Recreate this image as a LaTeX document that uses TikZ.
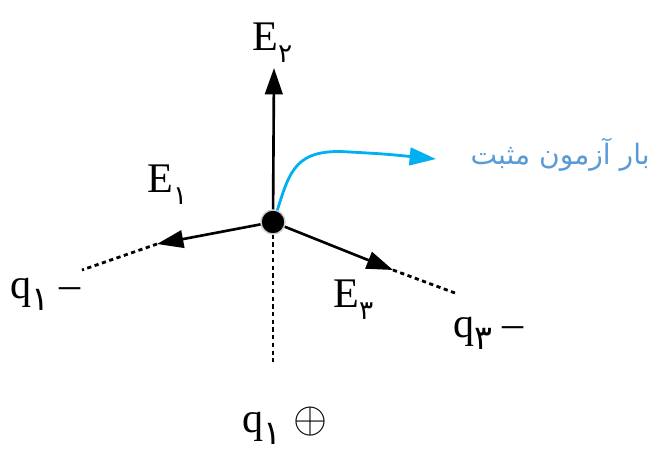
\documentclass[tikz,border=0pt]{standalone}
\usepackage{fontspec}
\usepackage{xcolor}
\usepackage{tikz}
\usetikzlibrary{arrows.meta}
\setmainfont{Liberation Serif}
\newfontfamily\fafont[Script=Arabic]{DejaVu Sans}
\TeXXeTstate=1
\definecolor{probe}{HTML}{00B0F0}
\definecolor{probetext}{HTML}{5B9BD5}
% persian digit as a lowered index
\newcommand{\fdig}[2][15]{\raisebox{-0.3em}{\fafont\fontsize{#1}{#1}\selectfont #2}}

\begin{document}
\begin{tikzpicture}[
    x=0.02cm, y=-0.02cm,
    font=\fontsize{24}{28}\selectfont,
    charge/.style={circle, fill=black, draw=gray!40, line width=0.8pt, minimum size=0.48cm, inner sep=0pt},
    field/.style={-{Triangle[length=15pt,width=10pt]}, line width=1.5pt},
    guide/.style={line width=1.6pt, dash pattern=on 2.4pt off 2pt},
    probearrow/.style={-{Triangle[length=15pt,width=10pt]}, line width=1.6pt, color=probe},
    lbl/.style={anchor=base west, inner sep=0pt}
]
\useasboundingbox (0,0) rectangle (655,451);

\node[charge] (q0) at (273,222) {};

% tips of the field vectors and ends of the guide lines
\coordinate (tipE2) at (274,68);
\coordinate (tipE1) at (157,244);
\coordinate (tipE3) at (393,270);
\coordinate (endE1) at (82,270);
\coordinate (endE3) at (455,293);
\coordinate (endQ) at (273,362);
\coordinate (tipP) at (436,159);

\draw[guide] (q0) -- (endQ);
\draw[guide] (tipE1) -- (endE1);
\draw[guide] (tipE3) -- (endE3);

\draw[field] (q0) -- (tipE2);
\draw[field] (q0) -- (tipE1);
\draw[field] (q0) -- (tipE3);

\draw[probearrow] (q0.70) .. controls (290,170) and (296,148) .. (350,152)
    .. controls (385,154) .. (tipP);

% labels
\node[lbl] (labE2) at (252,50) {E\fdig{۲}};
\node[lbl] (labE1) at (147,192) {E\fdig{۱}};
\node[lbl] (labE3) at (333,307) {E\fdig{۳}};
\node[lbl] (labQ1) at (10,298) {q\fdig[19]{۱} –};
\node[lbl] (labQ3) at (453,337) {q\fdig[19]{۳} –};
\node[lbl] (labQ0) at (242,432) {q\fdig[19]{۱}\hspace{7pt}{\fontsize{25}{25}\selectfont$\oplus$}};

\node[anchor=east, inner sep=0pt, text=probetext] (probelab) at (650,155)
    {\fafont\fontsize{16}{20}\selectfont\beginR بار آزمون مثبت\endR};
\end{tikzpicture}
\end{document}
